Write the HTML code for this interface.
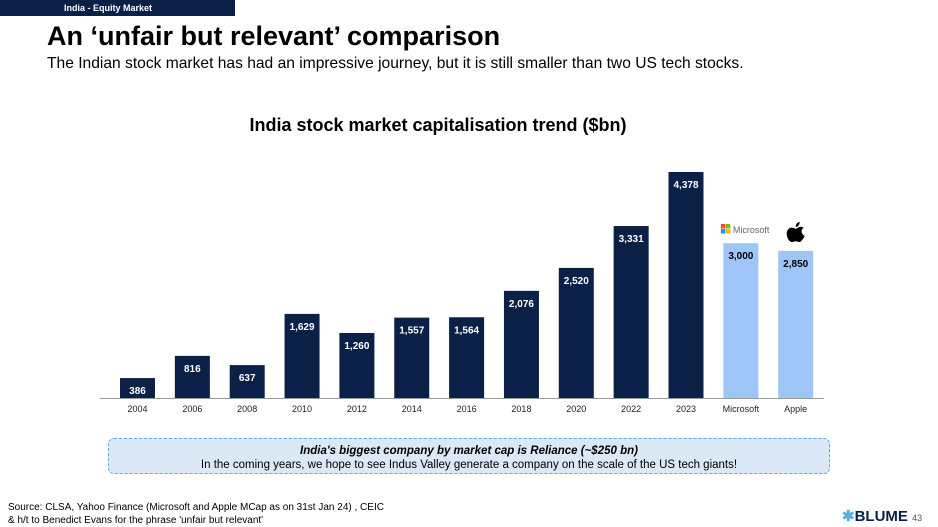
<!DOCTYPE html>
<html><head><meta charset="utf-8"><style>
body{margin:0;width:938px;height:527px;background:#fff;font-family:"Liberation Sans",sans-serif;position:relative;overflow:hidden}
.abs{position:absolute}
</style></head><body>
<div class="abs" style="left:0;top:0;width:235px;height:16px;background:#0b2046;color:#fff;font-size:9px;font-weight:bold;line-height:16px;padding-left:64px;box-sizing:border-box">India - Equity Market</div>
<div class="abs" style="left:47px;top:21px;font-size:27px;font-weight:bold;color:#000">An ‘unfair but relevant’ comparison</div>
<div class="abs" style="left:47px;top:55px;font-size:15.6px;color:#000">The Indian stock market has had an impressive journey, but it is still smaller than two US tech stocks.</div>
<div class="abs" style="left:0;width:876px;text-align:center;top:115px;font-size:18px;font-weight:bold;color:#000">India stock market capitalisation trend ($bn)</div>
<svg class="abs" style="left:0;top:0" width="938" height="527" id="chart"></svg>
<div class="abs" style="left:108px;top:438px;width:722px;height:36px;background:#dbe8f6;border:1.5px dashed #5aaee0;border-radius:6px;box-sizing:border-box;text-align:center;font-size:11.5px;color:#000;padding-top:5px;line-height:14px">
<div style="font-weight:bold;font-style:italic">India's biggest company by market cap is Reliance (~$250 bn)</div>
<div>In the coming years, we hope to see Indus Valley generate a company on the scale of the US tech giants!</div></div>
<div class="abs" style="left:8px;top:501px;font-size:10px;color:#000;line-height:13px">Source: CLSA, Yahoo Finance (Microsoft and Apple MCap as on 31st Jan 24) , CEIC<br>&amp; h/t to Benedict Evans for the phrase 'unfair but relevant'</div>
<div class="abs" style="left:842px;top:507px;font-size:15px;font-weight:bold;color:#0b2046"><span style="color:#5aaee0">✱</span>BLUME <span style="font-size:9px;font-weight:normal;color:#555">43</span></div>
<script>
const categories=["2004","2006","2008","2010","2012","2014","2016","2018","2020","2022","2023","Microsoft","Apple"];
const values=[386,816,637,1629,1260,1557,1564,2076,2520,3331,4378,3000,2850];
const valueLabels=["386","816","637","1,629","1,260","1,557","1,564","2,076","2,520","3,331","4,378","3,000","2,850"];
const isUS=[false,false,false,false,false,false,false,false,false,false,false,true,true];
const svg=document.getElementById('chart');const NS='http://www.w3.org/2000/svg';
const base=398,scale=226/4378,x0=137.5,step=54.85,bw=35;
const y=v=>base-v*scale, x=i=>x0+i*step;
function mk(t,a){const e=document.createElementNS(NS,t);for(const k in a)e.setAttribute(k,a[k]);svg.appendChild(e);return e;}
const ax=mk('line',{x1:100,x2:824,y1:base+0.5,y2:base+0.5,stroke:'#999','stroke-width':1});


categories.forEach((c,i)=>{
 const r=mk('rect',{x:x(i)-bw/2,y:y(values[i]),width:bw,height:base-y(values[i]),fill:isUS[i]?'#9fc5f8':'#0b2046'});
 
 
 const t=mk('text',{x:x(i),y:y(values[i])+16,'text-anchor':'middle','font-size':10,'font-weight':'bold',fill:isUS[i]?'#000':'#fff','font-family':'Liberation Sans'});
 t.textContent=valueLabels[i];
 
 
 const l=mk('text',{x:x(i),y:412,'text-anchor':'middle','font-size':9,fill:'#222','font-family':'Liberation Sans'});
 l.textContent=c;
 
 
});
const mx=x(11)-20,my=224;
[['#f25022',0,0],['#7fba00',5,0],['#00a4ef',0,5],['#ffb900',5,5]].forEach(s=>{mk('rect',{x:mx+s[1],y:my+s[2],width:4.5,height:4.5,fill:s[0]});});
const mt=mk('text',{x:mx+12,y:my+9,'font-size':9,fill:'#666','font-family':'Liberation Sans'});mt.textContent='Microsoft';


const ax2=x(12);
const ap=mk('path',{d:`M${ax2} ${229} C${ax2-4} ${226} ${ax2-9} ${228} ${ax2-9} ${234} C${ax2-9} ${239} ${ax2-5} ${243} ${ax2-3} ${242} C${ax2-1} ${241} ${ax2+1} ${241} ${ax2+3} ${242} C${ax2+5} ${243} ${ax2+8} ${238} ${ax2+9} ${236} C${ax2+5} ${234} ${ax2+5} ${229} ${ax2+8} ${228} C${ax2+5} ${225} ${ax2+2} ${228} ${ax2} ${229} Z M${ax2} ${227} C${ax2} ${224} ${ax2+2} ${222} ${ax2+4} ${222} C${ax2+4} ${225} ${ax2+2} ${227} ${ax2} ${227} Z`,fill:'#000'});


</script>
</body></html>
